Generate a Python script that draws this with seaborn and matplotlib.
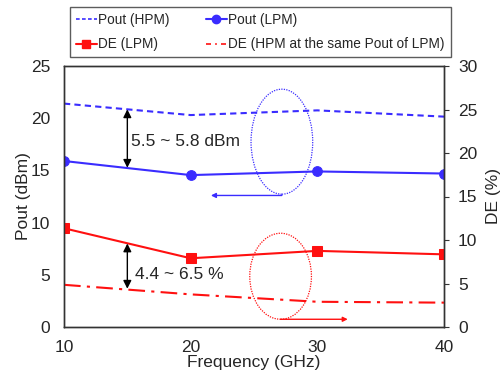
import matplotlib
matplotlib.use("Agg")
import matplotlib.pyplot as plt
import seaborn as sns
import pandas as pd
from matplotlib.patches import Ellipse
from matplotlib.lines import Line2D

freq = [10, 20, 30, 40]
pout_hpm = [21.4, 20.3, 20.75, 20.15]
pout_lpm = [15.9, 14.55, 14.9, 14.7]
de_lpm = [11.35, 7.9, 8.75, 8.35]
de_hpm = [4.85, 3.75, 2.9, 2.8]

sns.set_style("white")
plt.rcParams['font.family'] = ['Liberation Sans', 'DejaVu Sans']

BLUE = "#3a2cff"
RED = "#ff1010"

fig = plt.figure(figsize=(5.01, 3.78), dpi=100)
ax = fig.add_axes([64/501, 1-327/378, 380/501, 261/378])
ax2 = ax.twinx()

df = pd.DataFrame({"freq": freq, "pout_hpm": pout_hpm, "pout_lpm": pout_lpm,
                   "de_lpm": de_lpm, "de_hpm": de_hpm})

sns.lineplot(data=df, x="freq", y="pout_hpm", ax=ax, color=BLUE, lw=1.5,
             linestyle=(0, (3, 2)), legend=False)
sns.lineplot(data=df, x="freq", y="pout_lpm", ax=ax, color=BLUE, lw=1.5,
             marker="o", markersize=7, markeredgecolor=BLUE, legend=False)
sns.lineplot(data=df, x="freq", y="de_lpm", ax=ax2, color=RED, lw=1.5,
             marker="s", markersize=7, markeredgecolor=RED, legend=False)
sns.lineplot(data=df, x="freq", y="de_hpm", ax=ax2, color=RED, lw=1.5,
             linestyle=(0, (8, 3, 1.5, 3)), legend=False)

ax.set_xlim(10, 40)
ax.set_ylim(0, 25)
ax2.set_ylim(0, 30)
ax.set_xticks([10, 20, 30, 40])
ax.set_yticks([0, 5, 10, 15, 20, 25])
ax2.set_yticks([0, 5, 10, 15, 20, 25, 30])

fs = 12.5
ax.set_xlabel("Frequency (GHz)", fontsize=fs, labelpad=0)
ax.set_ylabel("Pout (dBm)", fontsize=fs, labelpad=0)
ax2.set_ylabel("DE (%)", fontsize=fs, labelpad=6)
ax.tick_params(axis="x", labelsize=fs, length=0, pad=9.5)
ax.tick_params(axis="y", labelsize=fs, length=0, pad=10)
ax2.tick_params(axis="y", labelsize=fs, length=3.6, width=0.8, pad=6.5,
                direction="out", color="#333333")

for a in (ax, ax2):
    for s in a.spines.values():
        s.set_color("#333333")
        s.set_linewidth(1.0)

# annotations: double arrows
ax.annotate("", xy=(15, 20.85), xytext=(15, 15.25),
            arrowprops=dict(arrowstyle="<|-|>", color="black", lw=1.0,
                            mutation_scale=12, shrinkA=0, shrinkB=0))
ax.text(15.3, 17.8, "5.5 ~ 5.8 dBm", fontsize=fs, va="center", ha="left")
ax2.annotate("", xy=(15, 9.6), xytext=(15, 4.4),
             arrowprops=dict(arrowstyle="<|-|>", color="black", lw=1.0,
                             mutation_scale=12, shrinkA=0, shrinkB=0))
ax2.text(15.6, 6.0, "4.4 ~ 6.5 %", fontsize=fs, va="center", ha="left")

# ellipses and pointer arrows
e1 = Ellipse((27.2, 17.75), 4.87, 10.06, fill=False, edgecolor=BLUE,
             linestyle=(0, (1, 1)), lw=0.9)
ax.add_patch(e1)
ax.annotate("", xy=(21.6, 12.6), xytext=(27.2, 12.6),
            arrowprops=dict(arrowstyle="-|>", color=BLUE, lw=1.0,
                            mutation_scale=7, shrinkA=0, shrinkB=0))
e2 = Ellipse((27.1, 4.86), 4.87, 8.24, fill=False, edgecolor=RED,
             linestyle=(0, (1, 1)), lw=0.9)
ax.add_patch(e2)
ax.annotate("", xy=(32.4, 0.74), xytext=(27.1, 0.74),
            arrowprops=dict(arrowstyle="-|>", color=RED, lw=1.0,
                            mutation_scale=7, shrinkA=0, shrinkB=0))

handles = [
    Line2D([], [], color=BLUE, lw=1.2, linestyle=(0, (2.2, 1.4))),
    Line2D([], [], color=RED, lw=1.5, marker="s", markersize=6, markeredgecolor=RED),
    Line2D([], [], color=BLUE, lw=1.5, marker="o", markersize=6, markeredgecolor=BLUE),
    Line2D([], [], color=RED, lw=1.2, linestyle=(0, (3, 2.5, 1, 2.5))),
]
labels = ["Pout (HPM)", "DE (LPM)", "Pout (LPM)", "DE (HPM at the same Pout of LPM)"]
leg = fig.legend(handles, labels, ncol=2, loc="upper left",
                 bbox_to_anchor=(70/501, 1-7/378), fontsize=9.8,
                 frameon=True, fancybox=False, edgecolor="#333333",
                 handlelength=1.5, handletextpad=0.1, columnspacing=2.7,
                 borderpad=0.45, labelspacing=0.75, borderaxespad=0)
leg.get_frame().set_linewidth(1.0)

fig.savefig("out.png", dpi=100)
